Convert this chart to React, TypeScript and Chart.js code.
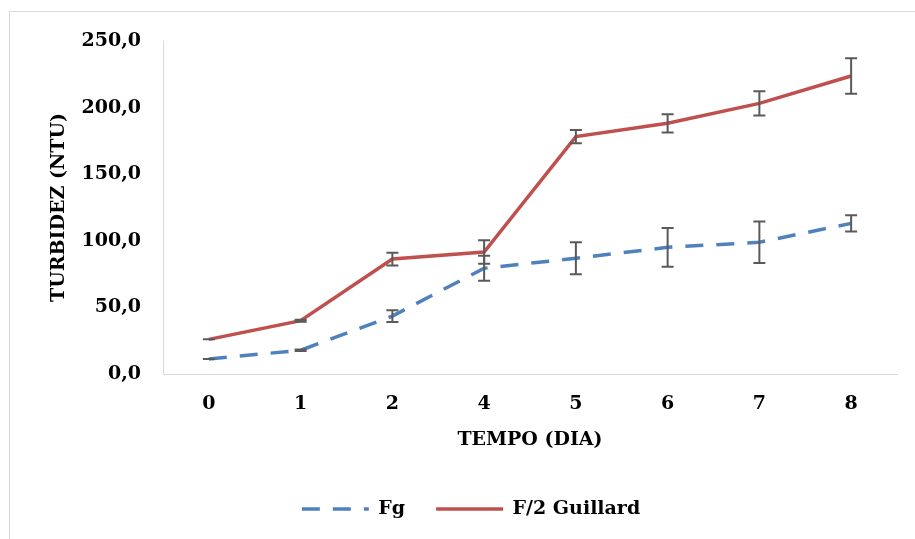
import React, { useEffect, useRef } from "react";
import { Chart, registerables } from "chart.js";

Chart.register(...registerables);

const categories = ["0", "1", "2", "4", "5", "6", "7", "8"];
const fgValues = [11.3, 17.8, 43.5, 79.4, 86.9, 95.1, 98.9, 113.1];
const fgErrors = [0, 0.5, 4.4, 9.4, 12.1, 14.5, 15.5, 6.1];
const f2Values = [26.0, 40.0, 86.3, 91.6, 178.2, 188.2, 203.2, 223.7];
const f2Errors = [0, 0.8, 4.8, 8.8, 4.9, 6.9, 9.1, 13.3];
const yTicks = [0, 50, 100, 150, 200, 250];
const seriesNames = ["Fg", "F/2 Guillard"];
const xTitle = "TEMPO (DIA)";
const yTitle = "TURBIDEZ (NTU)";

const errorSets = [fgErrors, f2Errors];

const FONT_FAMILY = "'DejaVu Serif', serif";
const TEXT_COLOR = "#000000";

const errorBarPlugin = {
  id: "errorBars",
  afterDatasetsDraw(chart: any) {
    const ctx = chart.ctx;
    const xs = chart.scales.x;
    const ys = chart.scales.y;
    const cap = 6;
    ctx.save();
    ctx.strokeStyle = "#5a5a5a";
    ctx.lineWidth = 2;
    ctx.setLineDash([]);
    chart.data.datasets.forEach((ds: any, di: number) => {
      const errs = errorSets[di];
      if (!errs) return;
      ds.data.forEach((v: number, i: number) => {
        const px = xs.getPixelForValue(i);
        const top = ys.getPixelForValue(v + errs[i]);
        const bot = ys.getPixelForValue(v - errs[i]);
        ctx.beginPath();
        ctx.moveTo(px, top);
        ctx.lineTo(px, bot);
        ctx.moveTo(px - cap, top);
        ctx.lineTo(px + cap, top);
        ctx.moveTo(px - cap, bot);
        ctx.lineTo(px + cap, bot);
        ctx.stroke();
      });
    });
    ctx.restore();
  },
};

export default function App() {
  const canvasRef = useRef<HTMLCanvasElement | null>(null);

  useEffect(() => {
    if (!canvasRef.current) return;
    const font = { family: FONT_FAMILY, size: 19, weight: "bold" as const };
    const chart = new Chart(canvasRef.current, {
      type: "line",
      data: {
        labels: categories,
        datasets: [
          {
            label: seriesNames[0],
            data: fgValues,
            borderColor: "#4F81BD",
            backgroundColor: "#4F81BD",
            borderWidth: 3.5,
            borderDash: [18, 13],
            pointRadius: 0,
            pointStyle: "line",
            pointRotation: 180,
            tension: 0,
            fill: false,
          },
          {
            label: seriesNames[1],
            data: f2Values,
            borderColor: "#C0504D",
            backgroundColor: "#C0504D",
            borderWidth: 3.5,
            pointRadius: 0,
            pointStyle: "line",
            pointRotation: 180,
            tension: 0,
            fill: false,
          },
        ],
      },
      options: {
        responsive: false,
        animation: false,
        devicePixelRatio: 1,
        layout: { padding: { left: 45, right: 18, top: 41, bottom: 10.5 } },
        plugins: {
          tooltip: { enabled: false },
          legend: {
            display: true,
            position: "bottom",
            labels: {
              usePointStyle: true,
              pointStyle: "line",
              pointStyleWidth: 67,
              padding: 31,
              color: TEXT_COLOR,
              font,
              generateLabels: (ch: any) => {
                const items = Chart.defaults.plugins.legend.labels.generateLabels(ch);
                return items.map((it: any) => {
                  const ds: any = ch.data.datasets[it.datasetIndex];
                  return {
                    ...it,
                    pointStyle: "line",
                    rotation: 180,
                    strokeStyle: ds.borderColor,
                    fillStyle: ds.borderColor,
                    lineWidth: ds.borderWidth,
                    lineDash: ds.borderDash || [],
                    lineCap: "butt",
                  };
                });
              },
            },
          },
        },
        scales: {
          x: {
            type: "category",
            offset: true,
            grid: { display: false, drawTicks: false },
            border: { display: true, color: "#d9d9d9", width: 1 },
            ticks: { color: TEXT_COLOR, font, padding: 19, maxRotation: 0 },
            title: {
              display: true,
              text: xTitle,
              color: TEXT_COLOR,
              font,
              padding: { top: 0, bottom: 17 },
            },
            afterFit: (s: any) => {
              s.height = 94.5;
            },
          },
          y: {
            min: 0,
            max: 250,
            afterBuildTicks: (s: any) => {
              s.ticks = yTicks.map((v) => ({ value: v }));
            },
            grid: { display: false, drawTicks: false },
            border: { display: true, color: "#d9d9d9", width: 1 },
            ticks: {
              color: TEXT_COLOR,
              font,
              padding: 22,
              callback: (v: any) => Number(v).toFixed(1).replace(".", ","),
            },
            title: {
              display: true,
              text: yTitle,
              color: TEXT_COLOR,
              font,
              padding: { top: 3, bottom: 0 },
            },
            afterFit: (s: any) => {
              s.width = 118;
            },
          },
        },
      },
      plugins: [errorBarPlugin],
    });
    return () => chart.destroy();
  }, []);

  return (
    <div
      style={{
        position: "fixed",
        left: 0,
        top: 0,
        width: 915,
        height: 539,
        overflow: "hidden",
        background: "#ffffff",
      }}
    >
      <div
        style={{
          position: "absolute",
          left: 9,
          top: 11,
          width: 2000,
          height: 2000,
          border: "1px solid #d9d9d9",
          boxSizing: "border-box",
        }}
      />
      <canvas
        ref={canvasRef}
        width={915}
        height={539}
        style={{ position: "absolute", left: 0, top: 0 }}
      />
    </div>
  );
}
